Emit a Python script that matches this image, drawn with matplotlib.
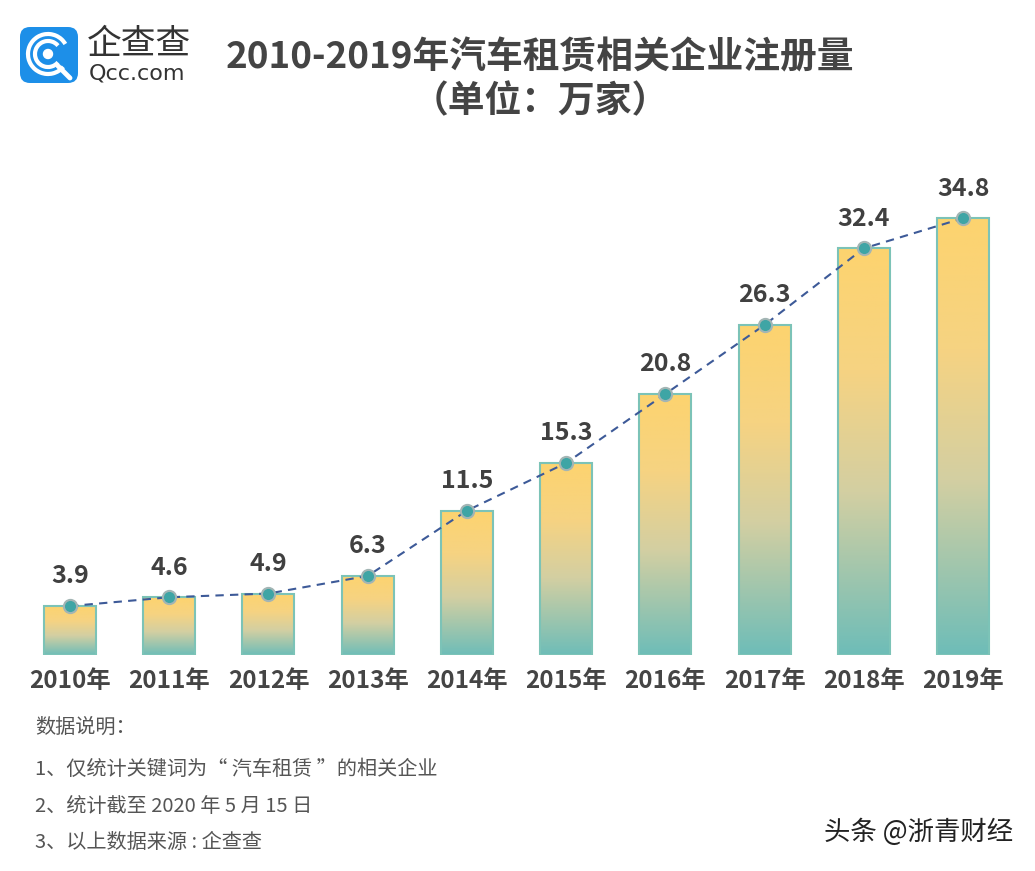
import numpy as np
import matplotlib.pyplot as plt
from matplotlib.colors import LinearSegmentedColormap
from matplotlib.patches import FancyBboxPatch, Rectangle, Arc, Circle

plt.rcParams['font.family'] = ['Noto Sans CJK SC', 'DejaVu Sans']

years = ["2010年", "2011年", "2012年", "2013年", "2014年",
         "2015年", "2016年", "2017年", "2018年", "2019年"]
counts = [3.9, 4.6, 4.9, 6.3, 11.5, 15.3, 20.8, 26.3, 32.4, 34.8]

title = "2010-2019年汽车租赁相关企业注册量"
subtitle = "（单位：万家）"
notes = ["数据说明：",
         "1、仅统计关键词为“ 汽车租赁 ”的相关企业",
         "2、统计截至 2020 年 5 月 15 日",
         "3、以上数据来源 : 企查查"]

W, H = 1035, 871
fig = plt.figure(figsize=(W / 100, H / 100), dpi=100)
fig.patch.set_facecolor("white")

# plot area: x centers at px 70..963, baseline at px 655
ax = fig.add_axes([20.4 / W, (H - 655) / H, 992.2 / W, 502 / H])
for s in ax.spines.values():
    s.set_visible(False)
ax.set_yticks([])

cmap = LinearSegmentedColormap.from_list(
    "bar", [(0, "#fdd36f"), (0.3, "#f6d382"), (0.6, "#d3cfa2"), (1, "#6ebdb8")])
grad = np.linspace(0, 1, 256).reshape(-1, 1)

x = np.arange(len(years))
bw = 0.525
for xi, v in zip(x, counts):
    rect = Rectangle((xi - bw / 2, 0), bw, v, facecolor="none",
                     edgecolor="#7cc3b7", linewidth=1.5, zorder=3)
    ax.add_patch(rect)
    im = ax.imshow(grad, cmap=cmap, aspect="auto", origin="upper",
                   extent=(xi - bw / 2, xi + bw / 2, 0, v), zorder=2)
    im.set_clip_path(rect)
    ax.text(xi, v + 1.4, f"{v}", ha="center", va="bottom", fontsize=18,
            fontweight="bold", color="#404040")

ax.plot(x, counts, linestyle=(0, (4, 3)), color="#3d5a98", linewidth=1.5,
        marker="o", markersize=9.5, markerfacecolor="#3fa5a5",
        markeredgecolor="#a3b5b4", markeredgewidth=1.5, zorder=5)
ax.set_xlim(-0.5, 9.5)
ax.set_ylim(0, 40)

ax.set_xticks(x)
ax.set_xticklabels(years, fontsize=17.5, fontweight="bold", color="#454545")
ax.tick_params(axis="x", length=0, pad=10)

# titles
fig.text(540 / W, 1 - 58 / H, title, ha="center", va="center",
         fontsize=26.5, fontweight="bold", color="#444444")
fig.text(540 / W, 1 - 102 / H, subtitle, ha="center", va="center",
         fontsize=26.5, fontweight="bold", color="#444444")

# logo
lg = fig.add_axes([0, 0, 1, 1], zorder=-1)
lg.set_xlim(0, W)
lg.set_ylim(H, 0)
lg.axis("off")
lg.add_patch(FancyBboxPatch((20, 27), 58, 56, boxstyle="round,pad=0,rounding_size=10",
                            facecolor="#1d8fe8", edgecolor="none"))
lg.add_patch(Arc((48, 54), 40, 40, theta1=40, theta2=330, color="white", lw=3))
lg.add_patch(Arc((48, 54), 26, 26, theta1=40, theta2=320, color="white", lw=3))
lg.add_patch(Circle((48, 54), 4.5, color="white"))
lg.plot([58, 70], [66, 78], color="white", lw=3.5, solid_capstyle="round")
lg.text(87, 44, "企查查", fontsize=25, color="#333333", va="center", ha="left")
lg.text(89, 73, "Qcc.com", fontsize=16, color="#333333", va="center", ha="left",
        family="DejaVu Sans")

# notes
note_y = [727, 769, 806, 842]
for yy, line in zip(note_y, notes):
    lg.text(35, yy, line, fontsize=14.5, color="#555555", va="center", ha="left")

lg.text(1013, 832, "头条 @浙青财经", fontsize=19, color="#222222", va="center", ha="right")

fig.savefig("out.png", dpi=100)
